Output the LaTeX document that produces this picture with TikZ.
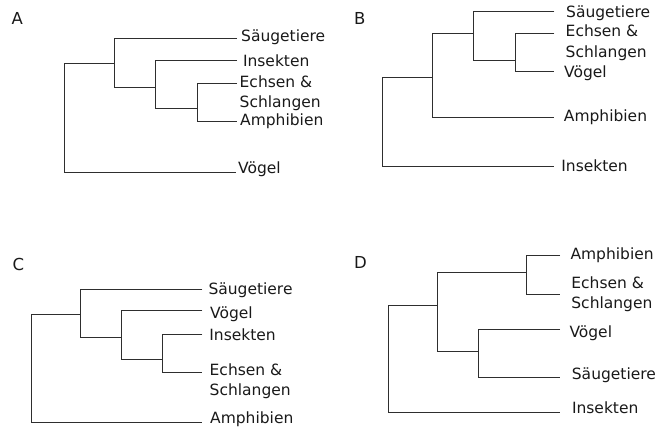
\documentclass[tikz,border=0pt]{standalone}
\usepackage{fontspec}
\setmainfont{DejaVu Sans}
\begin{document}
\begin{tikzpicture}[x=1pt,y=-1pt,
  branch/.style={draw=black!82, line width=1.6pt},
  lab/.style={anchor=base west, inner sep=0pt, text=black!90, font=\fontsize{15.5}{20.5}\selectfont},
  panel/.style={anchor=base west, inner sep=0pt, text=black!90, font=\fontsize{16.5}{20}\selectfont}]
\useasboundingbox (0,0) rectangle (672,426);

% ---------- Panel A ----------
\node[panel] (pA) at (11.5,24) {A};
\coordinate (aR) at (64.5,63.5);
\coordinate (a2) at (114.5,63.5);
\coordinate (a3) at (155.5,87.5);
\coordinate (a4) at (197.5,108.5);
\coordinate (aSa) at (237,38.5);
\coordinate (aIn) at (237,60.5);
\coordinate (aEc) at (237,83.5);
\coordinate (aAm) at (237,121.5);
\coordinate (aVo) at (236,172.5);
\draw[branch] (a2) -- (aR) |- (aVo);
\draw[branch] (aSa) -| (a2) |- (a3);
\draw[branch] (aIn) -| (a3) |- (a4);
\draw[branch] (aEc) -| (a4) |- (aAm);
\node[lab] (tASa) at (241,41.5) {Säugetiere};
\node[lab] (tAIn) at (242.8,66) {Insekten};
\node[lab] (tAEc) at (239.5,87) {\begin{tabular}[t]{@{}l@{}}Echsen \&\\Schlangen\end{tabular}};
\node[lab] (tAAm) at (240,125) {Amphibien};
\node[lab] (tAVo) at (238,173) {Vögel};

% ---------- Panel B ----------
\node[panel] (pB) at (354,24) {B};
\coordinate (bR) at (382.5,77.5);
\coordinate (b2) at (432.5,77.5);
\coordinate (b3) at (473.5,33.5);
\coordinate (b4) at (515.5,60.5);
\coordinate (bSa) at (554.3,11.5);
\coordinate (bEc) at (554.3,33.5);
\coordinate (bVo) at (554.3,71.5);
\coordinate (bAm) at (554.3,117.5);
\coordinate (bIn) at (554.3,166.5);
\draw[branch] (b2) -- (bR) |- (bIn);
\draw[branch] (b3) -| (b2) |- (bAm);
\draw[branch] (bSa) -| (b3) |- (b4);
\draw[branch] (bEc) -| (b4) |- (bVo);
\node[lab] (tBSa) at (566,17.5) {Säugetiere};
\node[lab] (tBEc) at (565.5,36.5) {\begin{tabular}[t]{@{}l@{}}Echsen \&\\Schlangen\end{tabular}};
\node[lab] (tBVo) at (564,77) {Vögel};
\node[lab] (tBAm) at (563.7,121.7) {Amphibien};
\node[lab] (tBIn) at (561.2,171.7) {Insekten};

% ---------- Panel C ----------
\node[panel] (pC) at (12.5,270) {C};
\coordinate (cR) at (31.5,314.5);
\coordinate (c2) at (80.5,314.5);
\coordinate (c3) at (121.5,337.5);
\coordinate (c4) at (162.5,359.5);
\coordinate (cSa) at (202.3,289.5);
\coordinate (cVo) at (202.3,310.5);
\coordinate (cIn) at (202.3,334.5);
\coordinate (cEc) at (202.3,372.5);
\coordinate (cAm) at (202.3,422.5);
\draw[branch] (c2) -- (cR) |- (cAm);
\draw[branch] (cSa) -| (c2) |- (c3);
\draw[branch] (cVo) -| (c3) |- (c4);
\draw[branch] (cIn) -| (c4) |- (cEc);
\node[lab] (tCSa) at (208.3,294.3) {Säugetiere};
\node[lab] (tCVo) at (210,318) {Vögel};
\node[lab] (tCIn) at (209.2,340) {Insekten};
\node[lab] (tCEc) at (209.5,375) {\begin{tabular}[t]{@{}l@{}}Echsen \&\\Schlangen\end{tabular}};
\node[lab] (tCAm) at (210,423.3) {Amphibien};

% ---------- Panel D ----------
\node[panel] (pD) at (354,268.3) {D};
\coordinate (dR) at (388.5,305.5);
\coordinate (d2) at (437.5,305.5);
\coordinate (d3) at (526.5,272.5);
\coordinate (d4) at (478.5,351.5);
\coordinate (dAm) at (560,255.5);
\coordinate (dEc) at (560,294.5);
\coordinate (dVo) at (560,329.5);
\coordinate (dSa) at (560,377.5);
\coordinate (dIn) at (560,412.5);
\draw[branch] (d2) -- (dR) |- (dIn);
\draw[branch] (d3) -| (d2) |- (d4);
\draw[branch] (dAm) -| (d3) |- (dEc);
\draw[branch] (dVo) -| (d4) |- (dSa);
\node[lab] (tDAm) at (570.3,259.3) {Amphibien};
\node[lab] (tDEc) at (571.2,288) {\begin{tabular}[t]{@{}l@{}}Echsen \&\\Schlangen\end{tabular}};
\node[lab] (tDVo) at (569.3,337) {Vögel};
\node[lab] (tDSa) at (571.7,379) {Säugetiere};
\node[lab] (tDIn) at (571.8,413.3) {Insekten};
\end{tikzpicture}
\end{document}
